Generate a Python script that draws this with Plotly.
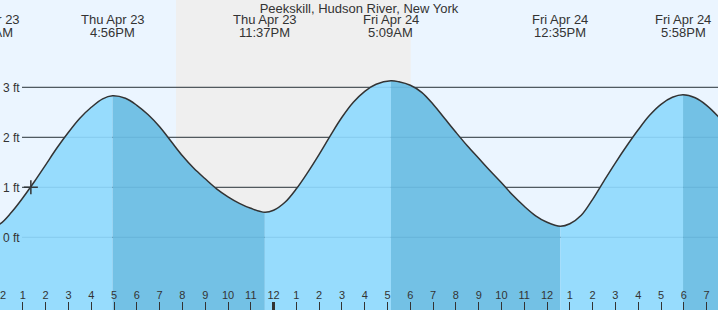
import pandas as pd
import plotly.graph_objects as go

# ---------------- data ----------------
title_text = "Peekskill, Hudson River, New York"

times = [
    "2026-04-23 11:30", "2026-04-23 12:00", "2026-04-23 12:30", "2026-04-23 13:00",
    "2026-04-23 13:30", "2026-04-23 14:00", "2026-04-23 14:30", "2026-04-23 15:00",
    "2026-04-23 15:30", "2026-04-23 16:00", "2026-04-23 16:30", "2026-04-23 16:56",
    "2026-04-23 17:30", "2026-04-23 18:00", "2026-04-23 18:30", "2026-04-23 19:00",
    "2026-04-23 19:30", "2026-04-23 20:00", "2026-04-23 20:30", "2026-04-23 21:00",
    "2026-04-23 21:30", "2026-04-23 22:00", "2026-04-23 22:30", "2026-04-23 23:00",
    "2026-04-23 23:37", "2026-04-24 00:00", "2026-04-24 00:30", "2026-04-24 01:00",
    "2026-04-24 01:30", "2026-04-24 02:00", "2026-04-24 02:30", "2026-04-24 03:00",
    "2026-04-24 03:30", "2026-04-24 04:00", "2026-04-24 04:30", "2026-04-24 05:09",
    "2026-04-24 05:30", "2026-04-24 06:00", "2026-04-24 06:30", "2026-04-24 07:00",
    "2026-04-24 07:30", "2026-04-24 08:00", "2026-04-24 08:30", "2026-04-24 09:00",
    "2026-04-24 09:30", "2026-04-24 10:00", "2026-04-24 10:30", "2026-04-24 11:00",
    "2026-04-24 11:30", "2026-04-24 12:00", "2026-04-24 12:35", "2026-04-24 13:00",
    "2026-04-24 13:30", "2026-04-24 14:00", "2026-04-24 14:30", "2026-04-24 15:00",
    "2026-04-24 15:30", "2026-04-24 16:00", "2026-04-24 16:30", "2026-04-24 17:00",
    "2026-04-24 17:30", "2026-04-24 17:58", "2026-04-24 18:30", "2026-04-24 19:00",
    "2026-04-24 19:30", "2026-04-24 20:00",
]
heights = [
    0.20, 0.27, 0.50, 0.79,
    1.11, 1.45, 1.79, 2.10,
    2.38, 2.60, 2.77, 2.83,
    2.78, 2.64, 2.45, 2.21,
    1.92, 1.63, 1.38, 1.17,
    0.97, 0.81, 0.68, 0.58,
    0.50, 0.54, 0.70, 0.97,
    1.30, 1.66, 2.04, 2.40,
    2.70, 2.92, 3.06, 3.13,
    3.11, 3.04, 2.90, 2.66,
    2.38, 2.10, 1.83, 1.58,
    1.33, 1.09, 0.84, 0.62,
    0.43, 0.30, 0.22, 0.27,
    0.44, 0.76, 1.13, 1.49,
    1.83, 2.15, 2.44, 2.66,
    2.80, 2.85, 2.79, 2.64,
    2.42, 2.15,
]

event_times = ["2026-04-23 11:28", "2026-04-23 16:56", "2026-04-23 23:37",
               "2026-04-24 05:09", "2026-04-24 12:35", "2026-04-24 17:58"]
event_dates = ["Thu Apr 23", "Thu Apr 23", "Thu Apr 23", "Fri Apr 24", "Fri Apr 24", "Fri Apr 24"]
event_labels = ["11:28AM", "4:56PM", "11:37PM", "5:09AM", "12:35PM", "5:58PM"]
event_kinds = ["low", "high", "low", "high", "low", "high"]

sunset = "2026-04-23 19:43"
sunrise = "2026-04-24 06:01"

now_time = ["2026-04-23 13:21"]
now_height = [1.0]

x_start = "2026-04-23 11:59:45"
x_end = "2026-04-24 19:30:03"
hour_ticks = pd.date_range("2026-04-23 12:00", "2026-04-24 19:00", freq="h")
hour_labels = [str((h.hour % 12) or 12) for h in hour_ticks]
midnight = ["2026-04-24 00:00"]

y_ticks = [0, 1, 2, 3]
y_labels = ["0 ft", "1 ft", "2 ft", "3 ft"]
y_range = [-1.454, 4.746]

# ---------------- styles ----------------
BG = "#ebf5ff"
NIGHT = "#efefef"
LIGHT = "#97dcfd"
DARK = "#73c1e5"
INK = "#333333"
FAINT = "rgba(40,100,150,0.15)"
BASE = -3
SMOOTH = 1.0
FONT = "Liberation Sans, Arial, sans-serif"

df = pd.DataFrame({"time": pd.to_datetime(times), "height": heights})
ev = pd.DataFrame({"time": pd.to_datetime(event_times), "kind": event_kinds})
xs, xe = pd.Timestamp(x_start), pd.Timestamp(x_end)

fig = go.Figure()

t0, t1 = df.time.iloc[0], df.time.iloc[-1]
bounds = [t0] + [t for t in ev.time if t0 < t < t1] + [t1]
for a, b in zip(bounds[:-1], bounds[1:]):
    seg = df[(df.time >= a) & (df.time <= b)]
    kind = ev[ev.time <= a].kind.iloc[-1]
    color = DARK if kind == "high" else LIGHT
    fig.add_trace(go.Scatter(x=[a, b], y=[BASE, BASE], mode="lines",
                             line=dict(width=0), hoverinfo="skip", showlegend=False))
    fig.add_trace(go.Scatter(x=seg.time, y=seg.height, mode="lines",
                             line=dict(width=0, shape="spline", smoothing=SMOOTH, color=color),
                             fill="tonexty", fillcolor=color,
                             hoverinfo="skip", showlegend=False))

fig.add_trace(go.Scatter(x=df.time, y=df.height, mode="lines",
                         line=dict(color=INK, width=1.5, shape="spline", smoothing=SMOOTH),
                         showlegend=False))

fig.add_trace(go.Scatter(x=pd.to_datetime(now_time), y=now_height, mode="markers",
                         xaxis="x2", yaxis="y",
                         marker=dict(symbol="cross-thin", size=10,
                                     line=dict(color=INK, width=1.5)),
                         showlegend=False))

shapes = [dict(type="rect", xref="x", yref="paper", x0=sunset, x1=sunrise, y0=0, y1=1,
               fillcolor=NIGHT, line=dict(width=0), layer="below")]
for v in y_ticks:
    shapes.append(dict(type="line", xref="paper", yref="y", x0=22 / 718, x1=1, y0=v, y1=v,
                       line=dict(color=INK, width=1), layer="below"))
for v in y_ticks:
    shapes.append(dict(type="line", xref="paper", yref="y", x0=22 / 718, x1=1, y0=v, y1=v,
                       line=dict(color=FAINT, width=1), layer="above"))

annotations = []
for t, d, l in zip(ev.time, event_dates, event_labels):
    px = (t - xs) / (xe - xs)
    annotations.append(dict(x=px, y=1, xref="paper", yref="paper", xanchor="center",
                            yanchor="top", yshift=-10, text=d, showarrow=False,
                            font=dict(size=13, color=INK, family=FONT)))
    annotations.append(dict(x=px, y=1, xref="paper", yref="paper", xanchor="center",
                            yanchor="top", yshift=-23, text=l, showarrow=False,
                            font=dict(size=13, color=INK, family=FONT)))

fig.update_layout(
    width=718, height=310,
    margin=dict(l=0, r=0, t=0, b=0, autoexpand=False),
    paper_bgcolor=BG, plot_bgcolor=BG,
    showlegend=False,
    font=dict(family=FONT, color=INK),
    title=dict(text=title_text, x=0.5, xanchor="center", y=1, yref="container",
               yanchor="top", pad=dict(t=4), font=dict(size=13, color=INK, family=FONT)),
    xaxis=dict(range=[x_start, x_end], tickvals=hour_ticks, ticktext=hour_labels,
               ticks="inside", ticklen=8, tickwidth=1, tickcolor=INK,
               ticklabelposition="inside", ticklabeloverflow="allow",
               tickfont=dict(size=11, color=INK), automargin=False,
               showgrid=False, zeroline=False, showline=False),
    xaxis2=dict(range=[x_start, x_end], overlaying="x", anchor="y", side="bottom",
                tickvals=pd.to_datetime(midnight), ticks="inside", ticklen=8, tickwidth=3,
                tickcolor=INK, showticklabels=False, automargin=False,
                showgrid=False, zeroline=False, showline=False),
    yaxis=dict(range=y_range, tickvals=y_ticks, ticktext=y_labels,
               ticks="", ticklabelposition="inside", ticklabeloverflow="allow",
               tickfont=dict(size=12, color=INK), automargin=False,
               showgrid=False, zeroline=False, showline=False),
    shapes=shapes,
    annotations=annotations,
)

fig.write_html("out.html")
